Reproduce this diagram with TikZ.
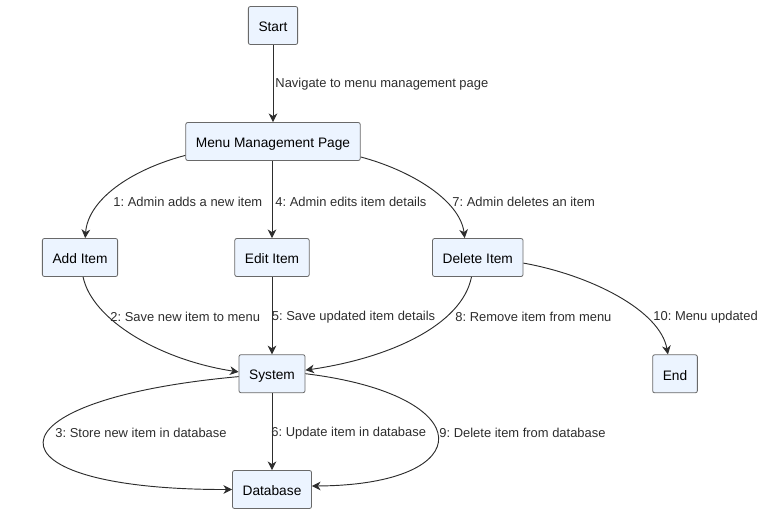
\documentclass[tikz,border=0pt]{standalone}
\usepackage{fontspec}
\setmainfont{Liberation Sans}
\usetikzlibrary{arrows.meta}
\definecolor{boxfill}{RGB}{236,244,255}
\definecolor{boxline}{RGB}{105,105,105}
\definecolor{edgeline}{RGB}{45,45,45}
\frenchspacing
\begin{document}
\begin{tikzpicture}[x=0.75pt,y=-0.75pt,
		box/.style={draw=boxline, fill=boxfill, rounded corners=1.5pt, line width=0.6pt, minimum height=28.5pt, inner xsep=7.6pt, text height=10pt, text depth=0.6pt, font=\fontsize{10.3}{12}\selectfont},
		flow/.style={-{Stealth[length=6.5pt,width=6.5pt,inset=2pt]}, draw=edgeline, line width=0.7pt},
		lbl/.style={anchor=west, inner sep=0pt, text=edgeline, font=\fontsize{9.7}{12}\selectfont},
	]
		\useasboundingbox (0,0) rectangle (764,514);
		
		\node[box] (start) at (273,25.5) {Start};
		\node[box] (menu) at (273,141.5) {Menu Management Page};
		\node[box] (add) at (80,257.5) {Add Item};
		\node[box] (edit) at (272,257.5) {Edit Item};
		\node[box] (delete) at (477.8,257.5) {Delete Item};
		\node[box] (system) at (272,373.7) {System};
		\node[box] (end) at (675,373.8) {End};
		\node[box] (database) at (272,489.5) {Database};
		
		\draw[flow] (start) -- (menu) node[lbl] (nav) at (275,84.5) {Navigate to menu management page};
		
		\draw[flow] (menu.189) .. controls (130,170) and (88,200) .. (add.75) node[lbl] (l1) at (113,201.5) {1: Admin adds a new item};
		\draw[flow] (menu.south -| edit) -- (edit) node[lbl] (l4) at (275,201.5) {4: Admin edits item details};
		\draw[flow] (menu.350) .. controls (410,170) and (460,200) .. (delete.124) node[lbl] (l7) at (452,201.5) {7: Admin deletes an item};
		
		\draw[flow] (add.-81) .. controls (92,320) and (160,360) .. (system.177) node[lbl] (l2) at (110,317) {2: Save new item to menu};
		\draw[flow] (edit) -- (system) node[lbl] (l5) at (271.5,317) {5: Save updated item details};
		\draw[flow] (delete.-108) .. controls (462,325) and (390,358) .. (system.6) node[lbl] (l8) at (455,317) {8: Remove item from menu};
		\draw[flow] (delete.-7) .. controls (590,275) and (660,310) .. (end.110) node[lbl] (l10) at (653,317) {10: Menu updated};
		
		\draw[flow] (system.185) .. controls (-20,400) and (-20,490) .. (database.west) node[lbl] (l3) at (55,433) {3: Store new item in database};
		\draw[flow] (system) -- (database) node[lbl] (l6) at (271,433) {6: Update item in database};
		\draw[flow] (system.east) .. controls (481,395) and (481,485) .. (database.5) node[lbl] (l9) at (439,433) {9: Delete item from database};
	\end{tikzpicture}
\end{document}
